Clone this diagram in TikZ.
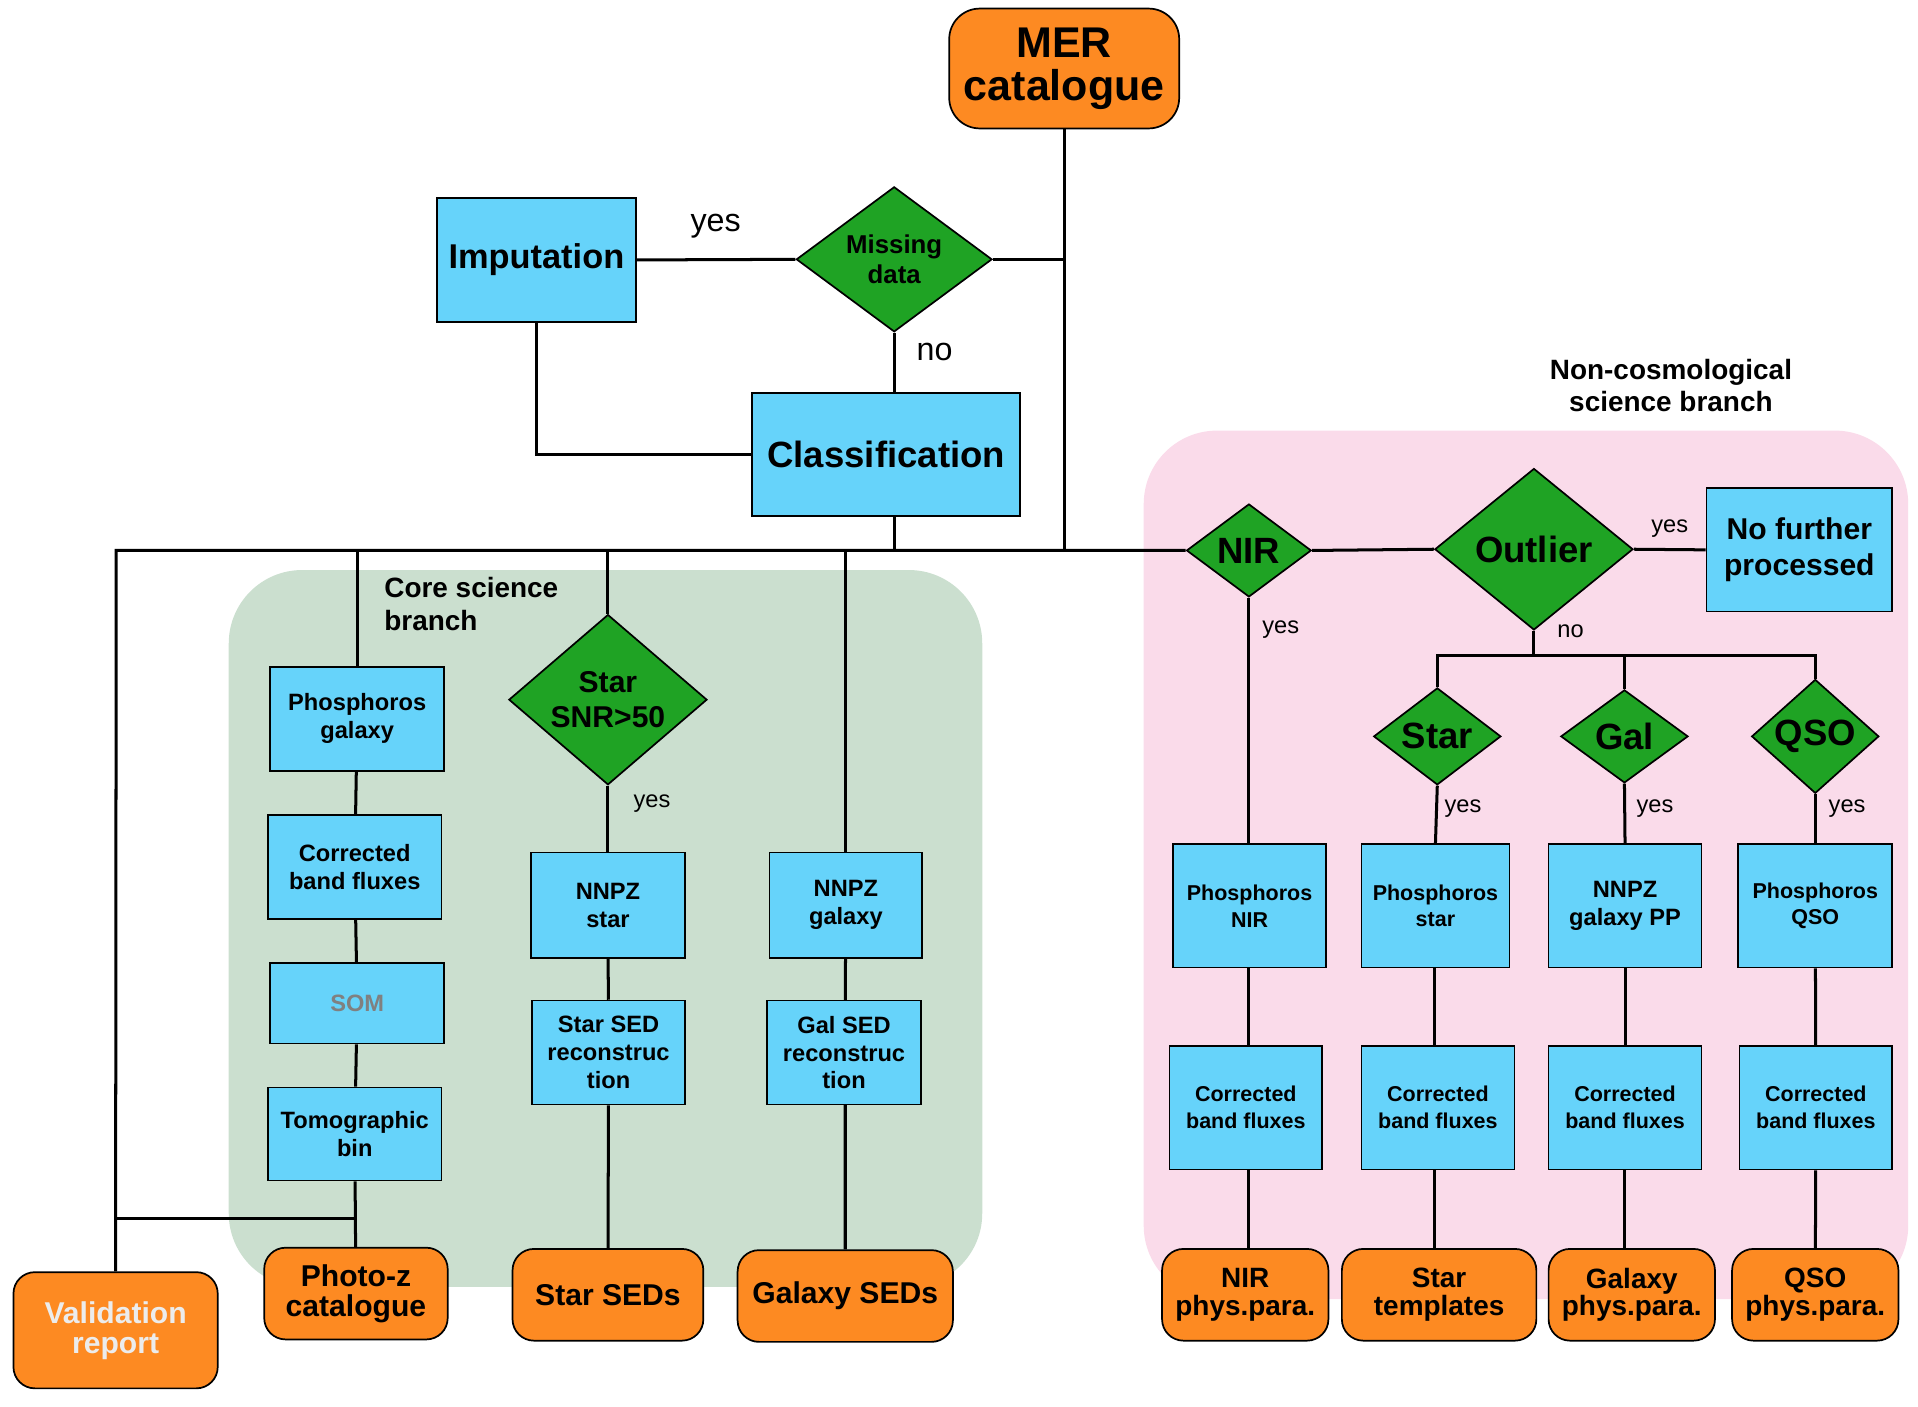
\documentclass[tikz,border=0pt]{standalone}
\usepackage{fontspec}
\setmainfont{Liberation Sans}
\usetikzlibrary{shapes.geometric}
\definecolor{cy}{HTML}{66D3FA}
\definecolor{org}{HTML}{FD8A22}
\definecolor{grn}{HTML}{1FA324}
\definecolor{pinkbg}{HTML}{FADBEA}
\definecolor{grnbg}{HTML}{CBDFCF}
\tikzset{
 bx/.style 2 args={rectangle,draw,fill=cy,line width=0.8pt,minimum width=#1*0.02cm,minimum height=#2*0.02cm,inner sep=1pt,align=center,font=\bfseries\fontsize{11}{13}\selectfont},
 ob/.style 2 args={rectangle,rounded corners=0.35cm,draw,fill=org,line width=0.8pt,minimum width=#1*0.02cm,minimum height=#2*0.02cm,inner sep=1pt,align=center,font=\bfseries\fontsize{14}{14}\selectfont},
 dm/.style 2 args={diamond,draw,fill=grn,line width=0.8pt,minimum width=#1*0.02cm,minimum height=#2*0.02cm,inner sep=0pt,align=center,font=\bfseries\fontsize{17}{18}\selectfont},
 ln/.style={line width=1.4pt},
 lab/.style={font=\fontsize{11}{13}\selectfont}
}
\begin{document}
\begin{tikzpicture}[x=0.02cm,y=-0.02cm]
\useasboundingbox (0,0) rectangle (1568,1150);
\fill[grnbg,rounded corners=1.2cm] (187,466) rectangle (803,1052);
\fill[pinkbg,rounded corners=1.2cm] (935,352) rectangle (1560,1062);
\node[ob={188}{98},rounded corners=0.5cm,font=\bfseries\fontsize{20}{20}\selectfont] (mer) at (870,56) {MER\\catalogue};
\node[dm={160}{112},font=\bfseries\fontsize{12}{14}\selectfont] (miss) at (731,212) {Missing\\data};
\node[bx={163}{101},font=\bfseries\fontsize{16}{18}\selectfont] (imp) at (438.5,212.5) {Imputation};
\node[bx={219}{101},font=\bfseries\fontsize{17}{18}\selectfont] (cls) at (724.5,371.5) {Classification};
\node[ob={167}{95},text=white!85!gray] (val) at (94.5,1087.5) {Validation\\report};
\node[font=\fontsize{15}{16}\selectfont] (yes1) at (585,185) {yes};
\node[font=\fontsize{15}{16}\selectfont] (no1) at (764,288) {no};
\node[font=\bfseries\fontsize{13}{15}\selectfont,align=left,anchor=north west] (core) at (308,466) {Core science\\branch};
\node[font=\bfseries\fontsize{13}{15}\selectfont,align=center] (ncb) at (1366,315) {Non-cosmological\\science branch};
% core branch
\node[bx={142}{85}] (pg) at (292,587.5) {Phosphoros\\galaxy};
\node[bx={142}{85}] (cb1) at (290,708.5) {Corrected\\band fluxes};
\node[bx={142}{66},text=gray] (som) at (292,820) {SOM};
\node[bx={142}{76}] (tomo) at (290,927) {Tomographic\\bin};
\node[ob={150}{75}] (photz) at (291,1057.5) {Photo-z\\catalogue};
\node[dm={162}{128},font=\bfseries\fontsize{14}{16}\selectfont] (snr) at (497,572) {Star\\SNR>50};
\node[lab] (yes2) at (533,657) {yes};
\node[bx={126}{86}] (nnps) at (497,740) {NNPZ\\star};
\node[bx={125}{85}] (ssed) at (497.5,860.5) {Star SED\\reconstruc\\tion};
\node[ob={156}{75}] (starsed) at (497,1058.5) {Star SEDs};
\node[bx={125}{86}] (nnpg) at (691.5,740) {NNPZ\\galaxy};
\node[bx={126}{85}] (gsed) at (690,860.5) {Gal SED\\reconstruc\\tion};
\node[ob={176}{75}] (galsed) at (691,1059.5) {Galaxy SEDs};
% non-cosmo
\node[dm={102}{76}] (nir) at (1021,450) {NIR};
\node[dm={162}{132}] (out) at (1254,449) {Outlier};
\node[bx={152}{101},font=\bfseries\fontsize{14}{17}\selectfont] (nfp) at (1471,449.5) {No further\\processed};
\node[lab] (yes3) at (1365,432) {yes};
\node[lab] (no2) at (1284,516) {no};
\node[lab] (yes4) at (1047,515) {yes};
\node[dm={104}{76}] (stard) at (1175,602) {Star};
\node[dm={104}{76}] (gald) at (1328,602) {Gal};
\node[dm={104}{76}] (qsod) at (1484,602) {QSO};
\node[lab] (yes5) at (1196,661) {yes};
\node[lab] (yes6) at (1353,661) {yes};
\node[lab] (yes7) at (1510,661) {yes};
\tikzset{sb/.style={font=\bfseries\fontsize{10}{12.5}\selectfont}}
\node[bx={125}{101},sb] (pnir) at (1021.5,740.5) {Phosphoros\\NIR};
\node[bx={125}{101},sb] (cnir) at (1018.5,905.5) {Corrected\\band fluxes};
\node[ob={136}{75},font=\bfseries\fontsize{13}{13}\selectfont] (onir) at (1018,1058.5) {NIR\\phys.para.};
\node[bx={121}{101},sb] (pst) at (1173.5,740.5) {Phosphoros\\star};
\node[bx={125}{101},sb] (cst) at (1175.5,905.5) {Corrected\\band fluxes};
\node[ob={159}{75},font=\bfseries\fontsize{13}{13}\selectfont] (ost) at (1176.5,1058.5) {Star\\templates};
\node[bx={125}{101},font=\bfseries\fontsize{11}{13}\selectfont] (ngp) at (1328.5,740.5) {NNPZ\\galaxy PP};
\node[bx={125}{101},sb] (cgp) at (1328.5,905.5) {Corrected\\band fluxes};
\node[ob={136}{75},font=\bfseries\fontsize{13}{13}\selectfont] (ogp) at (1334,1058.5) {Galaxy\\phys.para.};
\node[bx={126}{101},sb] (pq) at (1484,740.5) {Phosphoros\\QSO};
\node[bx={125}{101},sb] (cq) at (1484.5,905.5) {Corrected\\band fluxes};
\node[ob={136}{75},font=\bfseries\fontsize{13}{13}\selectfont] (oq) at (1484,1058.5) {QSO\\phys.para.};
% connectors
\coordinate (jm) at (870,450);
\coordinate (jl) at (95,450);
\coordinate (jb) at (95,996);
\draw[ln] (mer.south) -- (jm);
\draw[ln] (miss.east) -- (mer.south |- miss.east);
\draw[ln] (imp.east) -- (miss.west);
\draw[ln] (miss.south) -- (miss.south |- cls.north);
\draw[ln] (imp.south) |- (cls.west);
\draw[ln] (731,422) -- (731,450);
\draw[ln] (val.north) -- (jl) -- (nir.west);
\draw[ln] (pg.north) -- (pg.north |- jl);
\draw[ln] (pg) -- (cb1) -- (som) -- (tomo) -- (photz);
\draw[ln] (291,996) -- (jb);
\draw[ln] (snr.north) -- (snr.north |- jl);
\draw[ln] (snr.south) -- (nnps.north);
\draw[ln] (nnps) -- (ssed) -- (starsed);
\draw[ln] (nnpg.north) -- (nnpg.north |- jl);
\draw[ln] (nnpg) -- (691,818) (691,903) -- (galsed.north);
\draw[ln] (nir.east) -- (out.west);
\draw[ln] (out.east) -- (nfp.west);
\draw[ln] (nir.south) -- (1021,690);
\draw[ln] (1021,791) -- (1021,855) (1021,956) -- (1021,1021);
\coordinate (jo) at (1254,536);
\draw[ln] (out.south) -- (jo);
\draw[ln] (stard.north) |- (qsod.north |- jo) -- (qsod.north);
\draw[ln] (gald.north) -- (gald.north |- jo);
\draw[ln] (stard.south) -- (pst.north);
\draw[ln] (1173,791) -- (1173,855) (1173,956) -- (1173,1021);
\draw[ln] (gald.south) -- (ngp.north);
\draw[ln] (ngp) -- (cgp) (1328,956) -- (1328,1021);
\draw[ln] (qsod.south) -- (pq.north);
\draw[ln] (pq) -- (cq) -- (oq);
\end{tikzpicture}
\end{document}
